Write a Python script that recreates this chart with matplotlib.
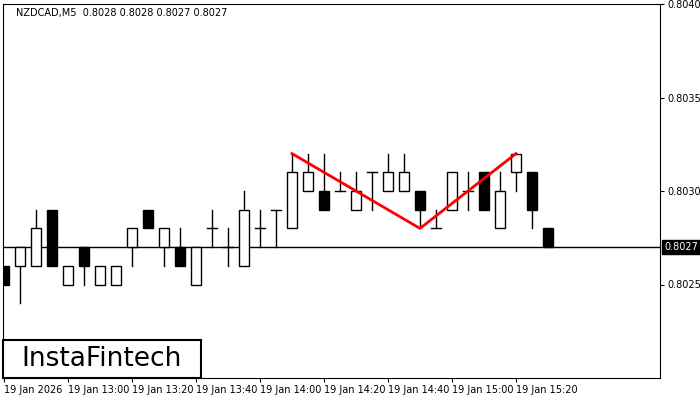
import matplotlib
matplotlib.use("Agg")
import matplotlib.pyplot as plt
from matplotlib.patches import Rectangle

opens  = [.8026,.8026,.8026,.8029,.8025,.8027,.8025,.8025,.8027,.8029,.8027,.8027,.8025,.8028,.8027,.8026,.8028,.8029,
          .8028,.8030,.8030,.8030,.8029,.8031,.8030,.8030,.8030,.8028,.8029,.8030,.8031,.8028,.8031,.8031,.8028]
closes = [.8025,.8027,.8028,.8026,.8026,.8026,.8026,.8026,.8028,.8028,.8028,.8026,.8027,.8028,.8027,.8029,.8028,.8029,
          .8031,.8031,.8029,.8030,.8030,.8031,.8031,.8031,.8029,.8028,.8031,.8030,.8029,.8030,.8032,.8029,.8027]
highs  = [.8026,.8027,.8029,.8029,.8026,.8027,.8026,.8026,.8028,.8029,.8028,.8028,.8027,.8029,.8028,.8030,.8029,.8029,
          .8032,.8032,.8032,.8031,.8031,.8031,.8032,.8032,.8030,.8029,.8031,.8031,.8031,.8031,.8032,.8031,.8028]
lows   = [.8025,.8024,.8026,.8026,.8025,.8025,.8025,.8025,.8026,.8028,.8026,.8026,.8025,.8027,.8026,.8026,.8027,.8027,
          .8028,.8030,.8029,.8030,.8029,.8029,.8030,.8030,.8028,.8028,.8029,.8029,.8029,.8028,.8030,.8028,.8027]
tick_idx = [0,4,8,12,16,20,24,28,32]
tick_labels = ["19 Jan 2026","19 Jan 13:00","19 Jan 13:20","19 Jan 13:40","19 Jan 14:00",
               "19 Jan 14:20","19 Jan 14:40","19 Jan 15:00","19 Jan 15:20"]
pattern_x = [18, 26, 32]
pattern_y = [.8032, .8028, .8032]
current = 0.8027
yticks = [0.8025, 0.8030, 0.8035, 0.8040]

fig = plt.figure(figsize=(7, 4), dpi=100)
ax = fig.add_axes([3/700, 22/400, 657/700, 374/400])
ax.set_xlim(-0.06, 41)
ax.set_ylim(0.80200, 0.80400)
w = 0.6
for i, (o, c, h, l) in enumerate(zip(opens, closes, highs, lows)):
    top, bot = max(o, c), min(o, c)
    ax.plot([i, i], [top, h], color="black", lw=1, zorder=2)
    ax.plot([i, i], [l, bot], color="black", lw=1, zorder=2)
    if o == c:
        ax.plot([i - w/2, i + w/2], [o, o], color="black", lw=1, zorder=2)
    else:
        ax.add_patch(Rectangle((i - w/2, bot), w, top - bot, facecolor="black" if c < o else "white",
                               edgecolor="black", lw=1, zorder=3))
ax.axhline(current, color="black", lw=1, zorder=1)
ax.plot(pattern_x, pattern_y, color="red", lw=2, zorder=4)

ax.yaxis.tick_right()
ax.set_yticks(yticks)
ax.set_yticklabels([f"{v:.4f}" for v in yticks], fontsize=7)
ax.set_xticks(tick_idx)
ax.set_xticklabels(tick_labels, fontsize=7, ha="left")
ax.tick_params(length=3, pad=2)
for lbl in ax.get_xticklabels():
    lbl.set_x(lbl.get_position()[0])
ax.text(current, 0, "", transform=ax.transAxes)
ax.annotate(f"{current:.4f}", xy=(1, current), xycoords=("axes fraction", "data"),
            xytext=(3, 0), textcoords="offset points", va="center", ha="left", fontsize=7,
            color="white", bbox=dict(boxstyle="square,pad=0.2", fc="black", ec="black"))
ax.text(0.02, 0.99, "NZDCAD,M5  0.8028 0.8028 0.8027 0.8027", transform=ax.transAxes,
        fontsize=7, va="top", ha="left")
fig.patches.append(Rectangle((3/700, 22/400), 198/700, 38/400, transform=fig.transFigure,
                             fc="white", ec="black", lw=1.5, zorder=10))
fig.text(102/700, 41/400, "InstaFintech", fontsize=19, ha="center", va="center", zorder=11)
fig.savefig("out.png", dpi=100)
